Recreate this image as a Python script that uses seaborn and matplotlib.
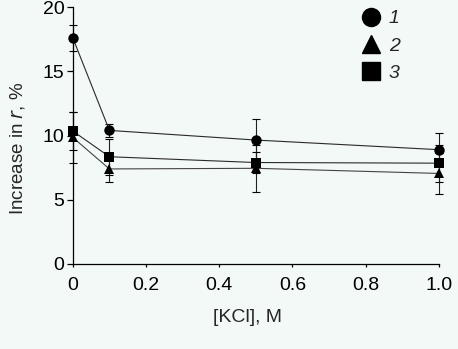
import numpy as np
import pandas as pd
import matplotlib
matplotlib.use("Agg")
import matplotlib.pyplot as plt
from matplotlib.lines import Line2D
import seaborn as sns

# Data
kcl = [0.0, 0.1, 0.5, 1.0]
series_labels = ["1", "2", "3"]
s1 = [17.6, 10.4, 9.65, 8.9]
s1_err = [1.0, 0.5, 1.65, 1.3]
s2 = [9.85, 7.4, 7.45, 7.05]
s2_err = [2.0, 1.05, 1.85, 1.6]
s3 = [10.35, 8.35, 7.9, 7.85]
s3_err = [1.5, 1.4, 0.8, 1.45]
x_ticks = [0, 0.2, 0.4, 0.6, 0.8, 1.0]
x_ticklabels = ["0", "0.2", "0.4", "0.6", "0.8", "1.0"]
y_ticks = [0, 5, 10, 15, 20]

bg = "#f3f9f6"
sns.set_style("ticks")
plt.rcParams["font.family"] = ["Liberation Sans", "DejaVu Sans"]

df = pd.DataFrame({
    "x": kcl * 3,
    "y": s1 + s2 + s3,
    "err": s1_err + s2_err + s3_err,
    "series": sum([[lab] * len(kcl) for lab in series_labels], []),
})

fig = plt.figure(figsize=(4.58, 3.49), dpi=100, facecolor=bg)
ax = fig.add_axes([0.159, 0.2436, 0.799, 0.736])
ax.set_facecolor(bg)

markers = {"1": "o", "2": "^", "3": "s"}

for lab in series_labels:
    sub = df[df["series"] == lab]
    eb = ax.errorbar(sub["x"], sub["y"], yerr=sub["err"], fmt="none",
                     ecolor="#222222", elinewidth=0.8, capsize=2.6,
                     capthick=0.8, zorder=2)
    for art in eb.lines[1] + eb.lines[2]:
        art.set_clip_on(False)

sns.lineplot(data=df, x="x", y="y", hue="series", style="series",
             markers=markers, dashes=False,
             palette={"1": "#2a2a2a", "2": "#444444", "3": "#2a2a2a"},
             linewidth=0.8, markersize=7.5, markeredgewidth=0,
             ax=ax, legend=False, zorder=3)
for ln in ax.lines:
    ln.set_markerfacecolor("black")
    ln.set_markeredgecolor("black")
    ln.set_clip_on(False)

ax.set_xlim(0, 1.0)
ax.set_ylim(0, 20)
ax.set_xticks(x_ticks)
ax.set_xticklabels(x_ticklabels)
ax.set_yticks(y_ticks)
ax.tick_params(axis="both", labelsize=14, colors="black", width=0.9)
ax.tick_params(axis="x", length=2.5, pad=7)
ax.tick_params(axis="y", length=4, pad=2)
for sp in ["left", "bottom"]:
    ax.spines[sp].set_linewidth(0.9)
    ax.spines[sp].set_color("black")
sns.despine(ax=ax)

ax.set_xlabel("[KCl], M", fontsize=14, va="center")
ax.set_ylabel(r"Increase in $\it{r}$, %", fontsize=13.5, va="center")
ax.xaxis.set_label_coords(0.478, -0.21)
ax.yaxis.set_label_coords(-0.150, 0.451)

handles = [Line2D([], [], marker=markers[l], color="black", linestyle="none",
                  markersize=13) for l in series_labels]
leg = ax.legend(handles, series_labels, loc="upper left",
                bbox_to_anchor=(0.762, 1.02), frameon=False,
                prop={"style": "italic", "size": 14}, handletextpad=0.3,
                labelspacing=0.5, handlelength=1.2, borderaxespad=0)

fig.savefig("out.png", dpi=100, facecolor=bg)
